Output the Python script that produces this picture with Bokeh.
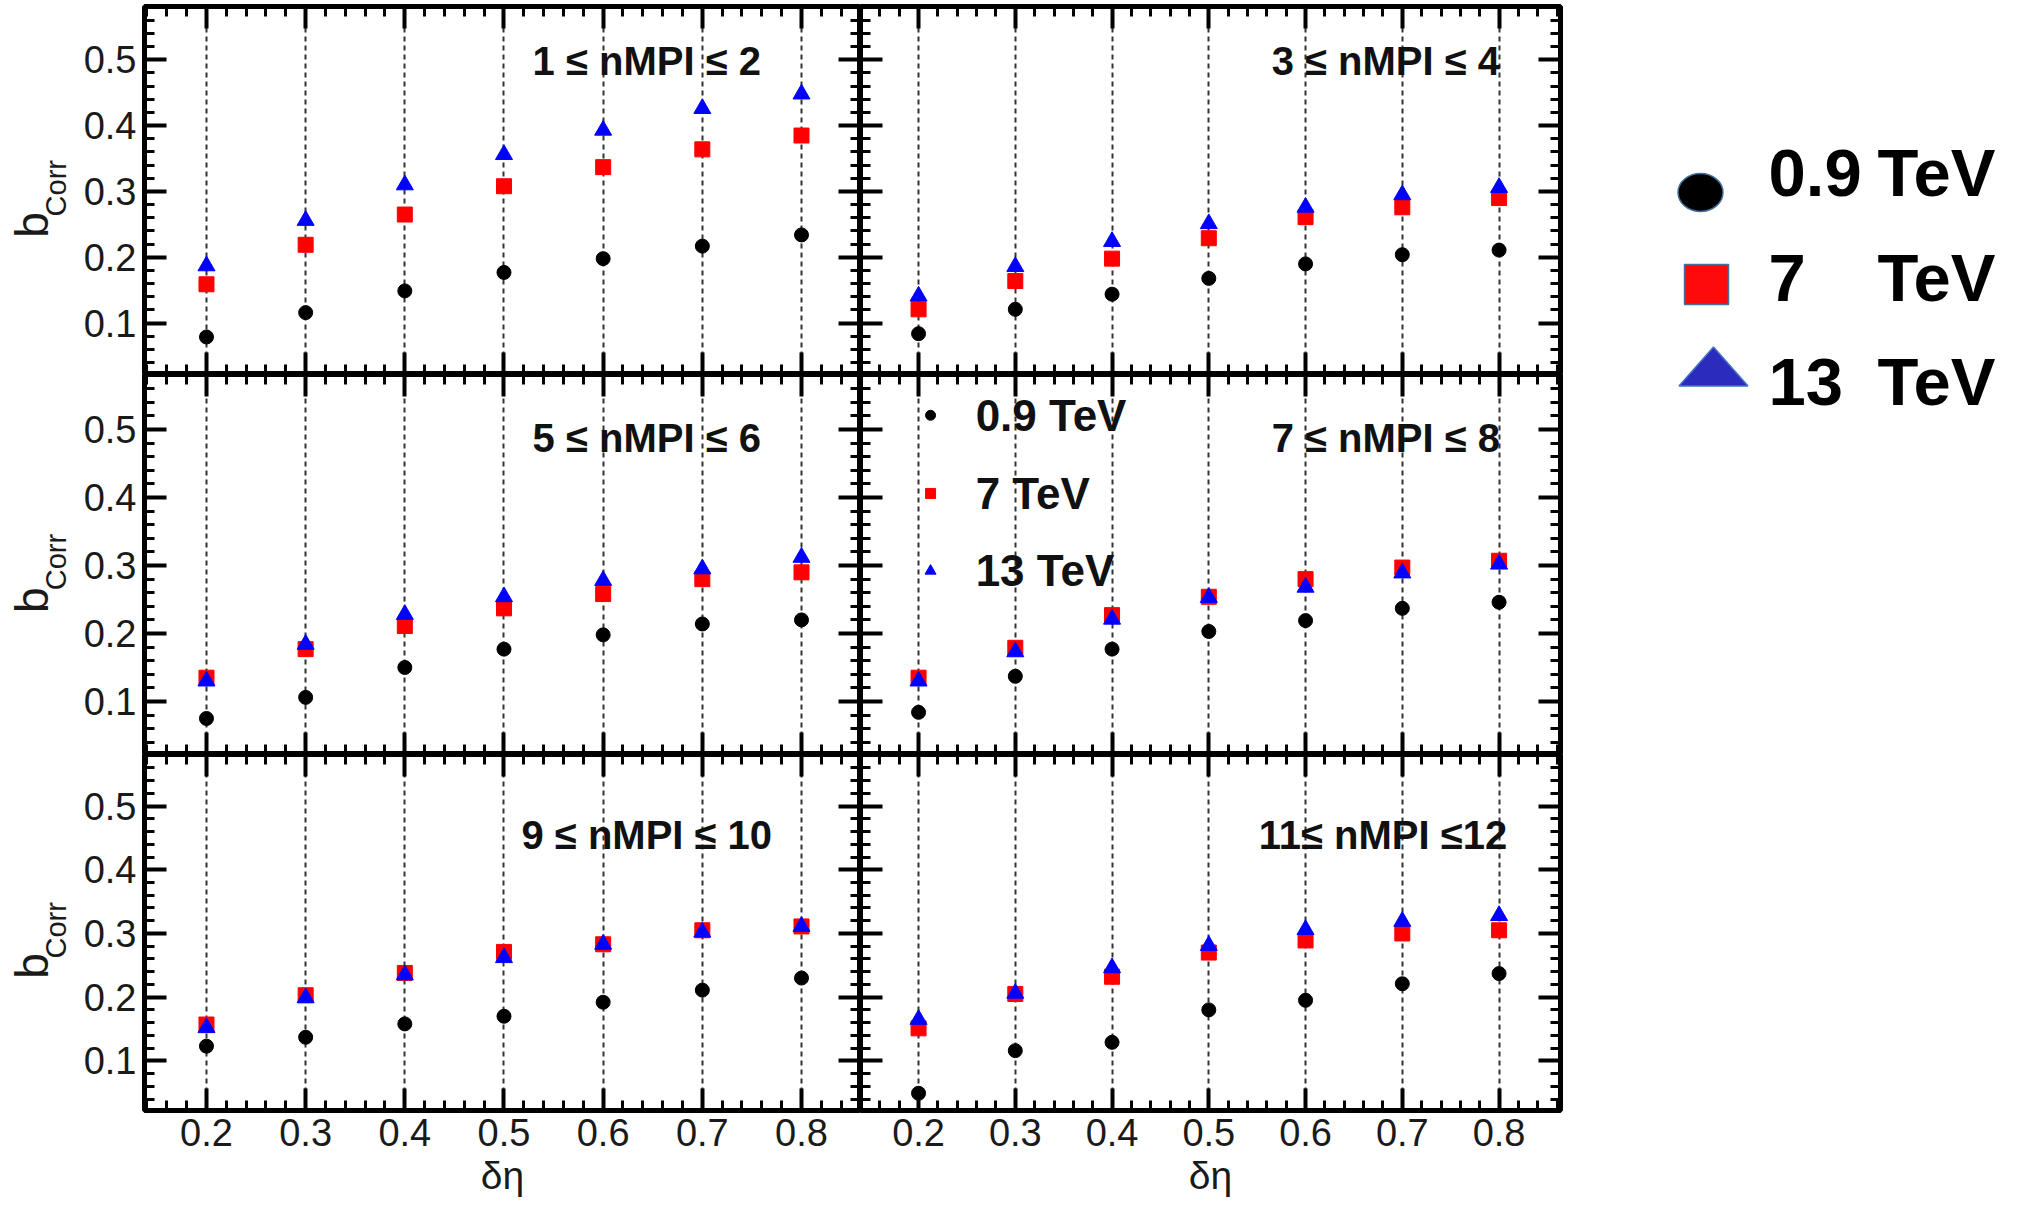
from math import pi
from bokeh.plotting import figure
from bokeh.layouts import gridplot, row
from bokeh.models import Range1d, LinearAxis, SingleIntervalTicker, Label
from bokeh.core.properties import value
from bokeh.embed import file_html
from bokeh.resources import INLINE

# ---------------- data ----------------
delta_eta = [0.2, 0.3, 0.4, 0.5, 0.6, 0.7, 0.8]

panel_titles = ["1 \u2264 nMPI \u2264 2", "3 \u2264 nMPI \u2264 4", "5 \u2264 nMPI \u2264 6",
                "7 \u2264 nMPI \u2264 8", "9 \u2264 nMPI \u2264 10", "11\u2264 nMPI \u226412"]

# 1 <= nMPI <= 2
b09_n12 = [0.079, 0.116, 0.149, 0.177, 0.198, 0.217, 0.234]
b7_n12 = [0.159, 0.219, 0.265, 0.308, 0.337, 0.364, 0.385]
b13_n12 = [0.187, 0.256, 0.310, 0.356, 0.393, 0.426, 0.448]
# 3 <= nMPI <= 4
b09_n34 = [0.084, 0.121, 0.144, 0.168, 0.190, 0.204, 0.211]
b7_n34 = [0.121, 0.164, 0.198, 0.229, 0.261, 0.276, 0.290]
b13_n34 = [0.141, 0.186, 0.224, 0.251, 0.276, 0.295, 0.306]
# 5 <= nMPI <= 6
b09_n56 = [0.075, 0.106, 0.150, 0.177, 0.198, 0.214, 0.220]
b7_n56 = [0.135, 0.177, 0.211, 0.237, 0.258, 0.280, 0.290]
b13_n56 = [0.130, 0.184, 0.228, 0.254, 0.278, 0.295, 0.312]
# 7 <= nMPI <= 8
b09_n78 = [0.084, 0.137, 0.177, 0.203, 0.219, 0.237, 0.246]
b7_n78 = [0.135, 0.179, 0.227, 0.254, 0.280, 0.297, 0.307]
b13_n78 = [0.130, 0.173, 0.221, 0.253, 0.268, 0.289, 0.302]
# 9 <= nMPI <= 10
b09_n910 = [0.123, 0.137, 0.158, 0.170, 0.192, 0.211, 0.230]
b7_n910 = [0.157, 0.203, 0.238, 0.271, 0.283, 0.305, 0.311]
b13_n910 = [0.152, 0.199, 0.235, 0.262, 0.283, 0.302, 0.311]
# 11 <= nMPI <= 12
b09_n1112 = [0.049, 0.116, 0.129, 0.180, 0.195, 0.221, 0.237]
b7_n1112 = [0.151, 0.205, 0.232, 0.270, 0.289, 0.300, 0.305]
b13_n1112 = [0.165, 0.206, 0.246, 0.281, 0.306, 0.319, 0.328]

series_09 = [b09_n12, b09_n34, b09_n56, b09_n78, b09_n910, b09_n1112]
series_7 = [b7_n12, b7_n34, b7_n56, b7_n78, b7_n910, b7_n1112]
series_13 = [b13_n12, b13_n34, b13_n56, b13_n78, b13_n910, b13_n1112]

energy_values = ["0.9", "7", "13"]
energy_unit = "TeV"
x_label = "\u03b4\u03b7"
y_label_main = "b"
y_label_sub = "Corr"

# ---------------- style ----------------
FONT = "Liberation Sans"
C09, C7, C13 = "#000000", "#ff0000", "#0000ff"

X_RANGES = [(0.1375, 0.8595), (0.140, 0.8635)]
Y_RANGE = (0.022, 0.581)
FRAME_W = [716, 700]
FRAME_H = [368, 380, 356]
LAB_W = 72                      # width of the strip holding the y label
B_LEFT = [144 - LAB_W, 0]
B_RIGHT = [0, 3]
B_TOP = [6, 0, 0]
B_BOTTOM = [0, 0, 95]

# title positions (data units) per panel
TITLE_X = [0.644, 0.683, 0.644, 0.683, 0.644, 0.680]
TITLE_Y = [0.498, 0.498, 0.488, 0.488, 0.455, 0.455]


def style_axis(ax, show_labels):
    ax.ticker = SingleIntervalTicker(interval=0.1, num_minor_ticks=5)
    ax.major_tick_in = 22
    ax.major_tick_out = 0
    ax.minor_tick_in = 10
    ax.minor_tick_out = 0
    ax.major_tick_line_width = 4
    ax.minor_tick_line_width = 3
    ax.major_tick_line_color = "black"
    ax.minor_tick_line_color = "black"
    ax.axis_line_color = None
    if show_labels:
        ax.major_label_text_font = FONT
        ax.major_label_text_font_size = "38px"
        ax.major_label_text_color = "#1a1a1a"
    else:
        ax.major_label_text_font_size = "0px"
        ax.major_label_text_color = None
        ax.major_label_standoff = 0


def make_panel(idx):
    r, c = divmod(idx, 2)
    xr = X_RANGES[c]
    p = figure(width=B_LEFT[c] + FRAME_W[c] + B_RIGHT[c],
               height=B_TOP[r] + FRAME_H[r] + B_BOTTOM[r],
               x_range=Range1d(*xr), y_range=Range1d(*Y_RANGE),
               min_border_left=B_LEFT[c], min_border_right=B_RIGHT[c],
               min_border_top=B_TOP[r], min_border_bottom=B_BOTTOM[r],
               output_backend="svg", toolbar_location=None)
    p.outline_line_color = "black"
    p.outline_line_width = 5
    p.background_fill_color = "white"
    p.border_fill_color = "white"

    xb = p.xaxis[0]
    yl = p.yaxis[0]
    style_axis(xb, r == 2)
    style_axis(yl, c == 0)
    if r == 2:
        xb.major_label_standoff = 8
        xb.axis_label = x_label
        xb.axis_label_text_font = FONT
        xb.axis_label_text_font_size = "39px"
        xb.axis_label_text_font_style = "normal"
        xb.axis_label_text_color = "#1a1a1a"
        xb.axis_label_standoff = 5
    if c == 0:
        yl.major_label_standoff = 8
    xt = LinearAxis()
    style_axis(xt, False)
    p.add_layout(xt, "above")
    yr = LinearAxis()
    style_axis(yr, False)
    p.add_layout(yr, "right")

    p.xgrid.grid_line_color = "#333333"
    p.xgrid.grid_line_width = 2
    p.xgrid.grid_line_dash = "5 4"
    p.ygrid.visible = False

    p.scatter(delta_eta, series_09[idx], marker="circle", size=14, color=C09)
    p.scatter(delta_eta, series_7[idx], marker="square", size=15, color=C7)
    p.scatter(delta_eta, series_13[idx], marker="triangle", size=17, color=C13)

    p.add_layout(Label(x=TITLE_X[idx], y=TITLE_Y[idx], text=panel_titles[idx],
                       text_align="center", text_baseline="middle",
                       text_font=FONT, text_font_size="40px", text_font_style="bold",
                       text_color="#111111"))

    if idx == 3:
        # inner legend
        lx_marker = 0.2124
        lx_text = 0.259
        ly = [0.521, 0.406, 0.292]
        p.scatter([lx_marker], [ly[0]], marker="circle", size=10, color=C09)
        p.scatter([lx_marker], [ly[1]], marker="square", size=10, color=C7)
        p.scatter([lx_marker], [ly[2]], marker="triangle", size=11, color=C13)
        for e, yy in zip(energy_values, ly):
            p.add_layout(Label(x=lx_text, y=yy, text=f"{e} {energy_unit}",
                               text_align="left", text_baseline="middle",
                               text_font=FONT, text_font_size="44px", text_font_style="bold",
                               text_color="#111111"))
    return p


def make_ylabel_strip(r):
    s = figure(width=LAB_W, height=B_TOP[r] + FRAME_H[r] + B_BOTTOM[r],
               x_range=Range1d(0, LAB_W), y_range=Range1d(*Y_RANGE),
               min_border=0, min_border_top=B_TOP[r], min_border_bottom=B_BOTTOM[r],
               x_axis_location=None, y_axis_location=None,
               output_backend="svg", toolbar_location=None)
    s.outline_line_color = None
    s.grid.visible = False
    s.text(x=[31.5], y=[0.249], text=[y_label_main], angle=pi / 2,
           text_align="center", text_baseline="middle",
           text_font=value(FONT), text_font_size=value("46px"), text_color="#1a1a1a")
    s.text(x=[55.5], y=[0.305], text=[y_label_sub], angle=pi / 2,
           text_align="center", text_baseline="middle",
           text_font=value(FONT), text_font_size=value("29px"), text_color="#1a1a1a")
    return s


panels = [make_panel(i) for i in range(6)]
strips = [make_ylabel_strip(r) for r in range(3)]
grid = gridplot([[strips[0], panels[0], panels[1]],
                 [strips[1], panels[2], panels[3]],
                 [strips[2], panels[4], panels[5]]],
                toolbar_location=None)

# ---------------- right-hand legend ----------------
LW, LH = 457, 1205
lg = figure(width=LW, height=LH, x_range=Range1d(0, LW), y_range=Range1d(LH, 0),
            output_backend="svg", toolbar_location=None, min_border=0,
            x_axis_location=None, y_axis_location=None)
lg.outline_line_color = None
lg.grid.visible = False

key_x = [137, 143, 150]
key_y = [192, 284, 366]
text_baseline_y = [172, 277, 381]
num_x, unit_x = 205, 314

lg.ellipse(x=[key_x[0]], y=[key_y[0]], width=45, height=38,
           fill_color="black", line_color="#41719c", line_width=1.5)
lg.rect(x=[key_x[1]], y=[key_y[1]], width=44, height=40,
        fill_color="#ff0a0a", line_color="#41719c", line_width=1.5)
tw, th = 69, 39
lg.patch(x=[key_x[2] - tw / 2, key_x[2] + tw / 2, key_x[2]],
         y=[key_y[2] + th / 2, key_y[2] + th / 2, key_y[2] - th / 2],
         fill_color="#2b2bbe", line_color="#4472c4", line_width=1.5)
lg.text(x=[num_x] * 3, y=text_baseline_y, text=energy_values,
        text_font=value(FONT), text_font_size=value("67px"),
        text_font_style="bold", text_baseline="alphabetic", text_align="left",
        text_color="black")
lg.text(x=[unit_x] * 3, y=text_baseline_y, text=[energy_unit] * 3,
        text_font=value(FONT), text_font_size=value("67px"),
        text_font_style="bold", text_baseline="alphabetic", text_align="left",
        text_color="black")

layout = row(grid, lg)
open("out.html", "w").write(file_html(layout, INLINE))
